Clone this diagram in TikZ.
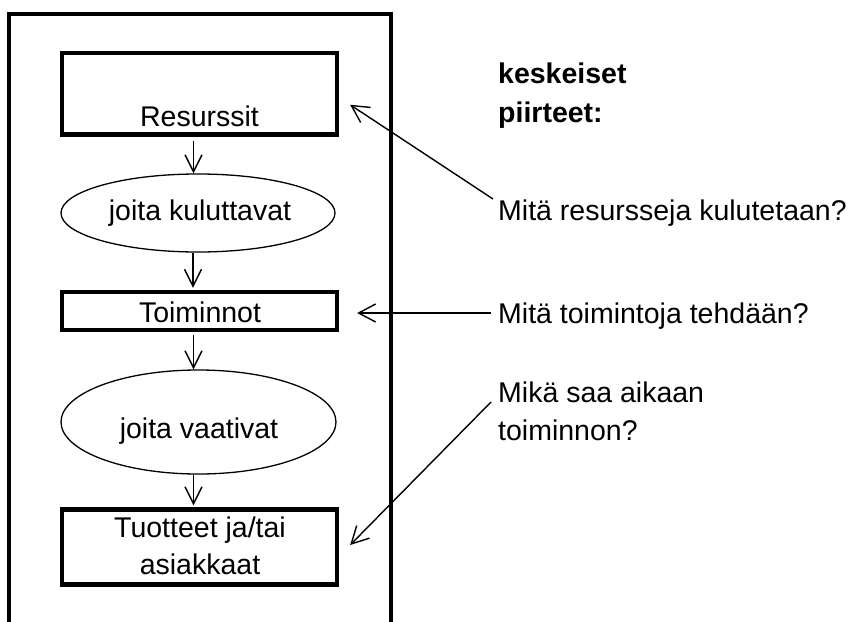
\documentclass[tikz,border=0pt]{standalone}
\usepackage{fontspec}
\setmainfont{Liberation Sans}
\usetikzlibrary{arrows.meta,shapes.geometric,calc}

\tikzset{
  txt/.style={inner sep=0pt, font=\fontsize{28.5}{37}\selectfont},
  boldtxt/.style={txt, font=\fontsize{28.5}{37}\selectfont\bfseries},
  stepbox/.style={draw, line width=4.3pt, inner sep=0pt, rectangle},
  phase/.style={draw, line width=1.3pt, inner sep=0pt, ellipse},
  frame/.style={line width=4pt},
  flow/.style={line width=1.4pt, -{Straight Barb[length=17pt,width=17pt,line width=1.4pt]}},
  callout/.style={line width=1.4pt, -{Straight Barb[length=17pt,width=18pt,line width=1.4pt]}}
}

\begin{document}
\begin{tikzpicture}[x=1pt,y=-1pt]
  \useasboundingbox (0,0) rectangle (853,621);

  % open frame around the chain
  \coordinate (fbl) at (8.5,625);
  \coordinate (ftl) at (8.5,13.5);
  \coordinate (ftr) at (391,13.5);
  \coordinate (fbr) at (391,625);
  \draw[frame] (fbl) -- (ftl) -- (ftr) -- (fbr);

  % chain of boxes and ellipses
  \node[stepbox, minimum width=275pt, minimum height=81.5pt] (res) at (199.5,93.75) {};
  \node[txt, anchor=base] (restxt) at (199.5,126) {Resurssit};

  \node[phase, minimum width=274pt, minimum height=78pt] (ell1) at (198,213) {};
  \node[txt, anchor=base] (ell1txt) at (200,220) {joita kuluttavat};

  \node[stepbox, minimum width=275pt, minimum height=38pt] (toim) at (199.5,311) {};
  \node[txt, anchor=base] (toimtxt) at (200,322) {Toiminnot};

  \node[phase, minimum width=275pt, minimum height=104pt] (ell2) at (198.5,422) {};
  \node[txt, anchor=base] (ell2txt) at (199,438) {joita vaativat};

  \node[stepbox, minimum width=275pt, minimum height=75pt] (out) at (199.5,547) {};
  \node[txt, anchor=base] (outtxt1) at (200,537) {Tuotteet ja/tai};
  \node[txt, anchor=base] (outtxt2) at (200,574) {asiakkaat};

  % downward flow
  \draw[flow, shorten <=4pt] ([xshift=-6pt]res.south) -- ([xshift=-6pt]res.south |- ell1.north);
  \draw[flow, shorten >=2pt] ([xshift=-5pt]ell1.south) -- ([xshift=-5pt]ell1.south |- toim.north);
  \draw[flow, shorten <=3pt] ([xshift=-6pt]toim.south) -- ([xshift=-6pt]toim.south |- ell2.north);
  \draw[flow, shorten >=2pt] ([xshift=-5pt]ell2.south) -- ([xshift=-5pt]ell2.south |- out.north);

  % key features on the right
  \node[boldtxt, anchor=base west] (head1) at (498,83) {keskeiset};
  \node[boldtxt, anchor=base west] (head2) at (498,122) {piirteet:};

  \node[txt, anchor=base west] (q1) at (498,220) {Mitä resursseja kulutetaan?};
  \node[txt, anchor=base west] (q2) at (498,323) {Mitä toimintoja tehdään?};
  \node[txt, anchor=base west] (q3a) at (498,402) {Mikä saa aikaan};
  \node[txt, anchor=base west] (q3b) at (498,440) {toiminnon?};

  % callout arrows
  \coordinate (s1) at ([xshift=-5pt,yshift=21pt]q1.base west);
  \coordinate (t1) at ([xshift=11pt,yshift=-11pt]res.east);
  \draw[callout] (s1) -- (t1);

  \coordinate (s2) at ([xshift=-7pt,yshift=10pt]q2.base west);
  \coordinate (t2) at ([xshift=18pt]toim.east);
  \draw[callout] (s2) -- (s2 -| t2);

  \coordinate (s3) at ([xshift=-7pt]q3a.base west);
  \coordinate (t3) at ([xshift=11pt,yshift=2pt]out.east);
  \draw[callout] (s3) -- (t3);
\end{tikzpicture}
\end{document}
